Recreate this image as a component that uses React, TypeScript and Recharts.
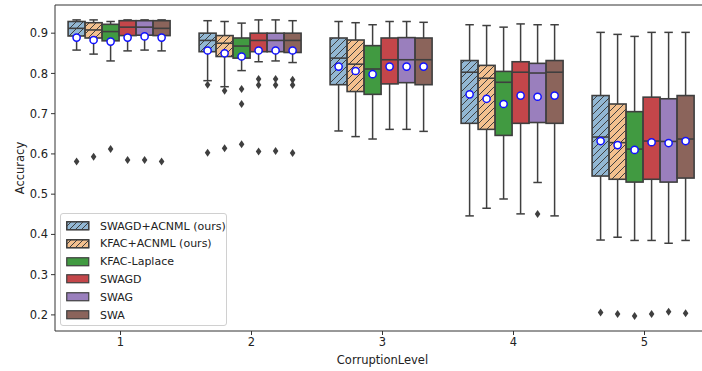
import React from 'react';
import { ComposedChart, Bar, XAxis, YAxis, Label, ReferenceLine } from 'recharts';

const levels = ['1', '2', '3', '4', '5'];
const seriesNames = ['SWAGD+ACNML (ours)', 'KFAC+ACNML (ours)', 'KFAC-Laplace', 'SWAGD', 'SWAG', 'SWA'];
const seriesColors = ['#92b7d3', '#f3c08e', '#419a41', '#c4464a', '#9a7fbd', '#8b645b'];
const seriesHatched = [true, true, false, false, false, false];
const yTicks = [0.2, 0.3, 0.4, 0.5, 0.6, 0.7, 0.8, 0.9];

// SWAGD+ACNML (ours)
const swagdAcnmlLow = [0.858, 0.782, 0.657, 0.446, 0.386];
const swagdAcnmlQ1 = [0.893, 0.854, 0.772, 0.676, 0.545];
const swagdAcnmlMed = [0.912, 0.882, 0.838, 0.803, 0.642];
const swagdAcnmlQ3 = [0.929, 0.9, 0.888, 0.832, 0.745];
const swagdAcnmlHigh = [0.933, 0.931, 0.929, 0.921, 0.902];
const swagdAcnmlMean = [0.889, 0.857, 0.817, 0.748, 0.632];
const swagdAcnmlOut = [[0.581], [0.772, 0.603], [], [], [0.206]];

// KFAC+ACNML (ours)
const kfacAcnmlLow = [0.848, 0.767, 0.643, 0.465, 0.393];
const kfacAcnmlQ1 = [0.888, 0.842, 0.755, 0.661, 0.537];
const kfacAcnmlMed = [0.908, 0.875, 0.823, 0.788, 0.628];
const kfacAcnmlQ3 = [0.926, 0.894, 0.883, 0.82, 0.724];
const kfacAcnmlHigh = [0.933, 0.929, 0.926, 0.919, 0.897];
const kfacAcnmlMean = [0.883, 0.85, 0.806, 0.737, 0.622];
const kfacAcnmlOut = [[0.593], [0.757, 0.614], [], [], [0.202]];

// KFAC-Laplace
const kfacLapLow = [0.831, 0.807, 0.637, 0.488, 0.385];
const kfacLapQ1 = [0.881, 0.838, 0.748, 0.646, 0.53];
const kfacLapMed = [0.904, 0.868, 0.811, 0.778, 0.612];
const kfacLapQ3 = [0.922, 0.888, 0.869, 0.805, 0.705];
const kfacLapHigh = [0.929, 0.925, 0.921, 0.915, 0.892];
const kfacLapMean = [0.879, 0.842, 0.798, 0.724, 0.61];
const kfacLapOut = [[0.612], [0.761, 0.724, 0.624], [], [], [0.197]];

// SWAGD
const swagdLow = [0.856, 0.829, 0.661, 0.451, 0.385];
const swagdQ1 = [0.894, 0.854, 0.774, 0.676, 0.537];
const swagdMed = [0.915, 0.882, 0.834, 0.803, 0.632];
const swagdQ3 = [0.931, 0.9, 0.888, 0.829, 0.741];
const swagdHigh = [0.933, 0.933, 0.929, 0.923, 0.902];
const swagdMean = [0.889, 0.857, 0.817, 0.745, 0.629];
const swagdOut = [[0.585], [0.786, 0.771, 0.606], [], [], [0.202]];

// SWAG
const swagLow = [0.858, 0.831, 0.661, 0.529, 0.378];
const swagQ1 = [0.895, 0.854, 0.777, 0.678, 0.53];
const swagMed = [0.915, 0.882, 0.834, 0.801, 0.631];
const swagQ3 = [0.931, 0.9, 0.889, 0.825, 0.737];
const swagHigh = [0.933, 0.933, 0.929, 0.921, 0.902];
const swagMean = [0.892, 0.857, 0.817, 0.742, 0.627];
const swagOut = [[0.585], [0.786, 0.771, 0.607], [], [0.451], [0.208]];

// SWA
const swaLow = [0.856, 0.827, 0.656, 0.446, 0.385];
const swaQ1 = [0.894, 0.852, 0.772, 0.676, 0.54];
const swaMed = [0.912, 0.882, 0.834, 0.803, 0.637];
const swaQ3 = [0.931, 0.9, 0.888, 0.832, 0.745];
const swaHigh = [0.933, 0.931, 0.927, 0.921, 0.902];
const swaMean = [0.889, 0.857, 0.817, 0.745, 0.632];
const swaOut = [[0.581], [0.784, 0.771, 0.602], [], [], [0.204]];

type Stats = { lo: number[]; q1: number[]; med: number[]; q3: number[]; hi: number[]; mean: number[]; out: number[][] };

const stats: Stats[] = [
  { lo: swagdAcnmlLow, q1: swagdAcnmlQ1, med: swagdAcnmlMed, q3: swagdAcnmlQ3, hi: swagdAcnmlHigh, mean: swagdAcnmlMean, out: swagdAcnmlOut },
  { lo: kfacAcnmlLow, q1: kfacAcnmlQ1, med: kfacAcnmlMed, q3: kfacAcnmlQ3, hi: kfacAcnmlHigh, mean: kfacAcnmlMean, out: kfacAcnmlOut },
  { lo: kfacLapLow, q1: kfacLapQ1, med: kfacLapMed, q3: kfacLapQ3, hi: kfacLapHigh, mean: kfacLapMean, out: kfacLapOut },
  { lo: swagdLow, q1: swagdQ1, med: swagdMed, q3: swagdQ3, hi: swagdHigh, mean: swagdMean, out: swagdOut },
  { lo: swagLow, q1: swagQ1, med: swagMed, q3: swagQ3, hi: swagHigh, mean: swagMean, out: swagOut },
  { lo: swaLow, q1: swaQ1, med: swaMed, q3: swaQ3, hi: swaHigh, mean: swaMean, out: swaOut },
];

const rows = levels.map((level, i) => {
  const row: any = { level };
  stats.forEach((s, si) => {
    row['s' + si] = [s.lo[i], s.hi[i]];
  });
  return row;
});

const EDGE = '#3f3f3f';
const FONT = '"DejaVu Sans", sans-serif';

const makeShape = (si: number) => (props: any) => {
  const { x, y, width, height, payload } = props;
  let i = payload ? levels.indexOf(String(payload.level)) : props.index;
  if (i < 0 || i === undefined) i = props.index;
  const s = stats[si];
  const lo = s.lo[i];
  const hi = s.hi[i];
  const yA = Math.min(y, y + height);
  const yB = Math.max(y, y + height);
  const map = (v: number) => yB - ((v - lo) / (hi - lo)) * (yB - yA);
  const cx = x + width / 2;
  const capW = width * 0.5;
  const pq1 = map(s.q1[i]);
  const pq3 = map(s.q3[i]);
  const pmed = map(s.med[i]);
  const pmean = map(s.mean[i]);
  const phi = map(hi);
  const plo = map(lo);
  return (
    <g>
      <line x1={cx} x2={cx} y1={phi} y2={pq3} stroke={EDGE} strokeWidth={1.5} />
      <line x1={cx} x2={cx} y1={pq1} y2={plo} stroke={EDGE} strokeWidth={1.5} />
      <line x1={cx - capW / 2} x2={cx + capW / 2} y1={phi} y2={phi} stroke={EDGE} strokeWidth={1.5} />
      <line x1={cx - capW / 2} x2={cx + capW / 2} y1={plo} y2={plo} stroke={EDGE} strokeWidth={1.5} />
      <rect x={x} y={pq3} width={width} height={pq1 - pq3} fill={seriesColors[si]} />
      {seriesHatched[si] && <rect x={x} y={pq3} width={width} height={pq1 - pq3} fill="url(#hatchPat)" />}
      <rect x={x} y={pq3} width={width} height={pq1 - pq3} fill="none" stroke={EDGE} strokeWidth={1.6} />
      <line x1={x} x2={x + width} y1={pmed} y2={pmed} stroke={EDGE} strokeWidth={1.6} />
      {s.out[i].map((v, k) => {
        const py = map(v);
        return (
          <path
            key={k}
            d={`M${cx},${py - 4} L${cx + 2.8},${py} L${cx},${py + 4} L${cx - 2.8},${py} Z`}
            fill={EDGE}
          />
        );
      })}
      <circle cx={cx} cy={pmean} r={3.6} fill="#ffffff" stroke="#1010ff" strokeWidth={1.5} />
    </g>
  );
};

const shapes = stats.map((_, si) => makeShape(si));

const LegendBox = () => (
  <div
    style={{
      position: 'absolute',
      left: 60,
      top: 213,
      width: 167,
      height: 113,
      border: '1px solid #d0d0d0',
      borderRadius: 3,
      background: 'rgba(255,255,255,0.8)',
      boxSizing: 'border-box',
      fontFamily: FONT,
      fontSize: 11,
      color: '#222',
    }}
  >
    <svg width={0} height={0} style={{ position: 'absolute' }}>
      <defs>
        <pattern id="hatchLeg" patternUnits="userSpaceOnUse" width={6} height={6}>
          <path d="M-1,1 l2,-2 M0,6 l6,-6 M5,7 l2,-2" stroke={EDGE} strokeWidth={1} />
        </pattern>
      </defs>
    </svg>
    {seriesNames.map((name, si) => (
      <div
        key={name}
        style={{ position: 'absolute', left: 5, top: 5 + si * 17.8, height: 14, display: 'flex', alignItems: 'center', whiteSpace: 'nowrap' }}
      >
        <svg width={24} height={10} style={{ marginRight: 10 }}>
          <rect x={0.75} y={0.75} width={22} height={8} fill={seriesColors[si]} stroke={EDGE} strokeWidth={1.2} />
          {seriesHatched[si] && <rect x={0.75} y={0.75} width={22} height={8} fill="url(#hatchLeg)" stroke={EDGE} strokeWidth={1.2} />}
        </svg>
        <span>{name}</span>
      </div>
    ))}
  </div>
);

export default function App() {
  return (
    <div style={{ position: 'absolute', left: 0, top: 0, width: 702, height: 371, overflow: 'hidden', background: '#fff' }}>
      <ComposedChart
        width={712}
        height={371}
        data={rows}
        margin={{ top: 5, right: 2, bottom: 0, left: 0 }}
        barCategoryGap="10%"
        barGap={0}
      >
        <defs>
          <pattern id="hatchPat" patternUnits="userSpaceOnUse" width={7} height={7}>
            <path d="M-1,1 l2,-2 M0,7 l7,-7 M6,8 l2,-2" stroke={EDGE} strokeWidth={1} />
          </pattern>
        </defs>
        <XAxis
          dataKey="level"
          type="category"
          height={40}
          tickSize={4}
          tickMargin={3}
          axisLine={{ stroke: '#333', strokeWidth: 1 }}
          tickLine={{ stroke: '#333' }}
          tick={{ fill: '#222', fontSize: 11.5, fontFamily: FONT }}
        >
          <Label value="CorruptionLevel" position="insideBottom" offset={7} style={{ fill: '#222', fontSize: 11.5, fontFamily: FONT }} />
        </XAxis>
        <YAxis
          type="number"
          domain={[0.16, 0.97]}
          ticks={yTicks}
          allowDataOverflow
          width={55}
          tickSize={4}
          tickMargin={3}
          tickFormatter={(v: number) => v.toFixed(1)}
          axisLine={{ stroke: '#333', strokeWidth: 1 }}
          tickLine={{ stroke: '#333' }}
          tick={{ fill: '#222', fontSize: 11.5, fontFamily: FONT }}
        >
          <Label
            content={(p: any) => {
              const vb = p.viewBox || { y: 5, height: 326 };
              const cy = vb.y + vb.height / 2;
              return (
                <text x={20} y={cy} transform={`rotate(-90, 20, ${cy})`} textAnchor="middle" dominantBaseline="central" fill="#222" fontSize={11.5} fontFamily={FONT}>
                  Accuracy
                </text>
              );
            }}
          />
        </YAxis>
        <ReferenceLine y={0.97} stroke="#333" strokeWidth={1} ifOverflow="visible" />
        {stats.map((_, si) => (
          <Bar key={si} dataKey={'s' + si} name={seriesNames[si]} shape={shapes[si]} isAnimationActive={false} fill={seriesColors[si]} />
        ))}
      </ComposedChart>
      <LegendBox />
    </div>
  );
}
